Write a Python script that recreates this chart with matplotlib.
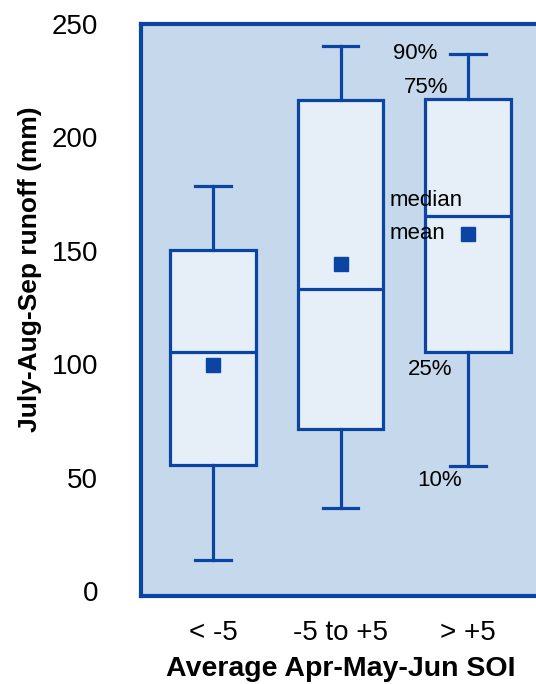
import matplotlib
matplotlib.use('Agg')
import matplotlib.pyplot as plt

# ------------ data ---------------

groups = ['< -5', '-5 to +5', '> +5']
p10 = [13.6, 36.4, 55.3]
p25 = [55.7, 71.5, 105.3]
median = [105.3, 133.3, 165.4]
mean = [99.6, 144.3, 157.5]
p75 = [150.4, 216.7, 217.0]
p90 = [178.5, 240.4, 236.8]

# ------------ style ---------------

BLUE = '#0a45a3'
BG = '#c6d9ec'
BOX = '#e6eef8'

plt.rcParams['font.family'] = ['Liberation Sans', 'DejaVu Sans']

fig = plt.figure(figsize=(5.36, 6.84), dpi=100)
ax = fig.add_axes([141 / 536, 88 / 684, 399 / 536, 572 / 684])
ax.set_facecolor(BG)

stats = []
for i, g in enumerate(groups):
    stats.append(dict(label=g, whislo=p10[i], q1=p25[i], med=median[i],
                      mean=mean[i], q3=p75[i], whishi=p90[i], fliers=[]))

ax.bxp(stats, positions=[1, 2, 3], widths=0.67, capwidths=0.28,
       showmeans=True, showfliers=False, patch_artist=True,
       boxprops=dict(facecolor=BOX, edgecolor=BLUE, linewidth=2.3),
       medianprops=dict(color=BLUE, linewidth=2.3),
       whiskerprops=dict(color=BLUE, linewidth=2.3),
       capprops=dict(color=BLUE, linewidth=2.3),
       meanprops=dict(marker='s', markerfacecolor=BLUE, markeredgecolor=BLUE,
                      markersize=9.5))

ax.set_xlim(0.435, 3.565)
ax.set_ylim(-2.2, 248.7)
ax.set_yticks([0, 50, 100, 150, 200, 250])
ax.tick_params(axis='both', length=0, labelsize=20)
ax.tick_params(axis='y', pad=31)
ax.tick_params(axis='x', pad=17.5)
for s in ax.spines.values():
    s.set_color(BLUE)
    s.set_linewidth(3)
    s.set_clip_on(False)

ax.set_ylabel('July-Aug-Sep runoff (mm)', fontsize=19, fontweight='bold', va='center')
ax.yaxis.set_label_coords(-0.278, 0.572)
ax.set_xlabel('Average Apr-May-Jun SOI', fontsize=20.5, fontweight='bold', va='center')
ax.xaxis.set_label_coords(0.5, -0.127)

# labels on the last box
ann = 16
ax.text(2.757, p90[2], '90%', ha='right', va='center', fontsize=ann)
ax.text(2.85, p75[2] + 5, '75%', ha='right', va='center', fontsize=ann)
ax.text(2.388, median[2] + 7, 'median', ha='left', va='center', fontsize=ann)
ax.text(2.388, mean[2], 'mean', ha='left', va='center', fontsize=ann)
ax.text(2.53, p25[2] - 7.5, '25%', ha='left', va='center', fontsize=ann)
ax.text(2.6, p10[2] - 6.5, '10%', ha='left', va='center', fontsize=ann)

fig.savefig('out.png', dpi=100)
